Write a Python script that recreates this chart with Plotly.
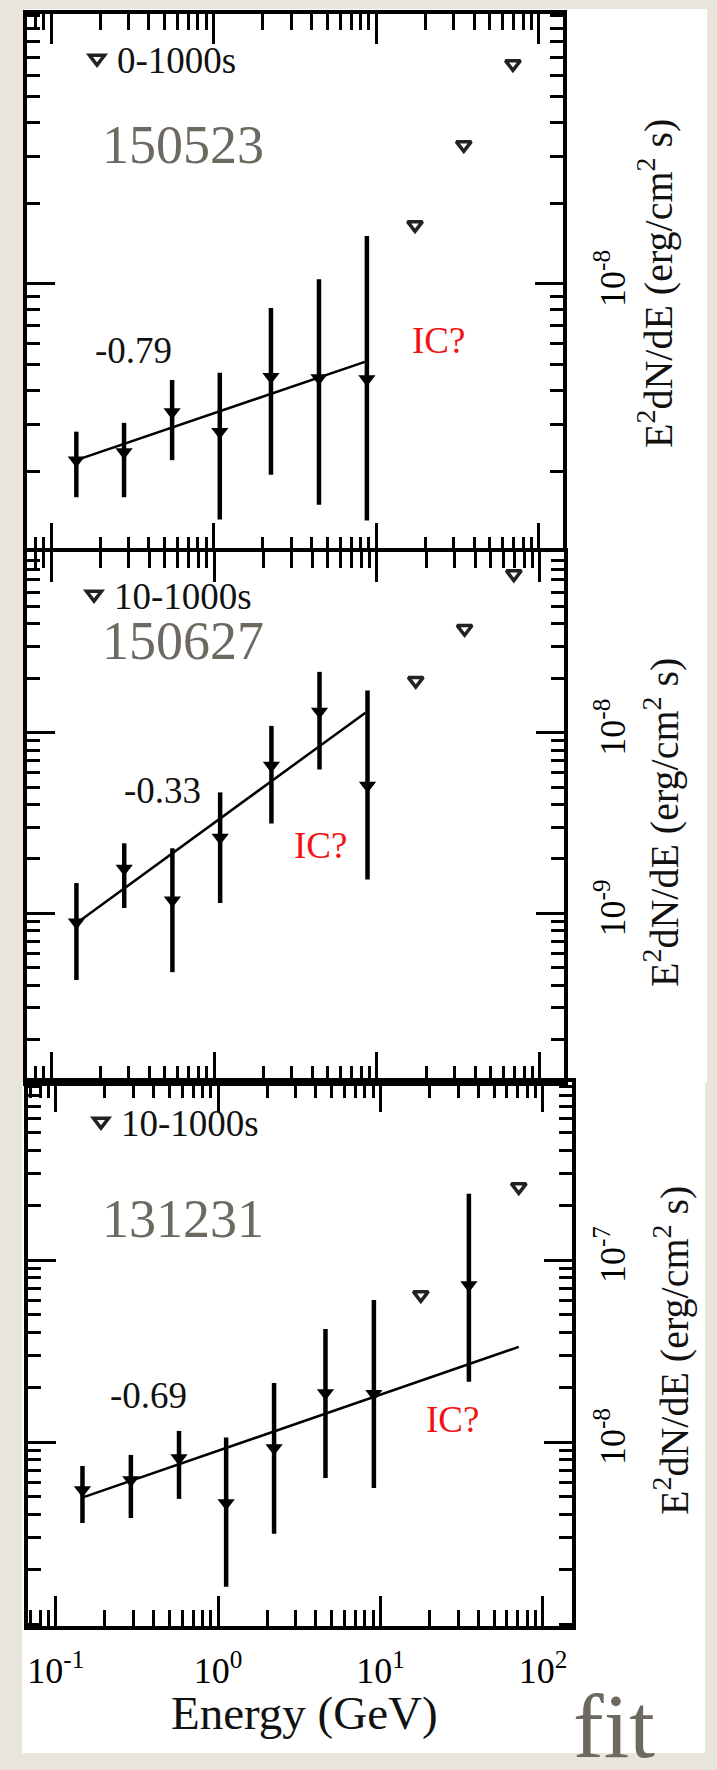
import plotly.graph_objects as go

W, H = 717, 1770
SERIF = "Liberation Serif, Times New Roman, Times, serif"

# ---------------- data ----------------
# Panel 1: 150523, 0-1000s
e1 = [0.143, 0.281, 0.555, 1.09, 2.25, 4.44, 8.75]
f1 = [2.20e-9, 2.36e-9, 3.33e-9, 2.81e-9, 4.50e-9, 4.46e-9, 4.42e-9]
f1_hi = [2.81e-9, 3.03e-9, 4.38e-9, 4.66e-9, 8.13e-9, 1.04e-8, 1.51e-8]
f1_lo = [1.60e-9, 1.60e-9, 2.20e-9, 1.32e-9, 1.94e-9, 1.50e-9, 1.31e-9]
ul1_e = [17.3, 34.5, 69.2]
ul1_f = [1.66e-8, 3.30e-8, 6.62e-8]
fit1_e = [0.143, 8.5]
fit1_f = [2.20e-9, 5.12e-9]

# Panel 2: 150627, 10-1000s
e2 = [0.143, 0.281, 0.555, 1.09, 2.25, 4.44, 8.75]
f2 = [8.91e-10, 1.77e-9, 1.18e-9, 2.63e-9, 6.58e-9, 1.31e-8, 5.09e-9]
f2_hi = [1.47e-9, 2.44e-9, 2.29e-9, 4.67e-9, 1.09e-8, 2.17e-8, 1.71e-8]
f2_lo = [4.27e-10, 1.07e-9, 4.72e-10, 1.14e-9, 3.14e-9, 6.25e-9, 1.54e-9]
ul2_e = [17.3, 34.5, 69.2]
ul2_f = [1.94e-8, 3.76e-8, 7.55e-8]
fit2_e = [0.143, 8.5]
fit2_f = [8.81e-10, 1.29e-8]

# Panel 3: 131231, 10-1000s
e3 = [0.146, 0.290, 0.574, 1.12, 2.21, 4.58, 9.1, 35.0]
f3 = [5.45e-9, 6.18e-9, 8.17e-9, 4.62e-9, 9.27e-9, 1.86e-8, 1.84e-8, 7.29e-8]
f3_hi = [7.38e-9, 8.49e-9, 1.15e-8, 1.06e-8, 2.11e-8, 4.18e-8, 6.03e-8, 2.31e-7]
f3_lo = [3.59e-9, 3.82e-9, 4.87e-9, 1.60e-9, 3.13e-9, 6.34e-9, 5.58e-9, 2.14e-8]
ul3_e = [17.7, 71.0]
ul3_f = [6.43e-8, 2.52e-7]
fit3_e = [0.150, 71.0]
fit3_f = [4.99e-9, 3.33e-8]

# tick labels
x_tickvals = [0.1, 1, 10, 100]
x_ticktext = ["10<sup>-1</sup>", "10<sup>0</sup>", "10<sup>1</sup>", "10<sup>2</sup>"]
y1_tickvals = [1e-8]
y1_ticktext = ["10<sup>-8</sup>"]
y2_tickvals = [1e-9, 1e-8]
y2_ticktext = ["10<sup>-9</sup>", "10<sup>-8</sup>"]
y3_tickvals = [1e-8, 1e-7]
y3_ticktext = ["10<sup>-8</sup>", "10<sup>-7</sup>"]

labels_time = ["0-1000s", "10-1000s", "10-1000s"]
labels_grb = ["150523", "150627", "131231"]
labels_index = ["-0.79", "-0.33", "-0.69"]

# ---------------- figure ----------------
def px(x):
    return x / W

def py(y):
    return 1 - y / H

fig = go.Figure()

panels = [
    (e1, f1, f1_hi, f1_lo, ul1_e, ul1_f, fit1_e, fit1_f),
    (e2, f2, f2_hi, f2_lo, ul2_e, ul2_f, fit2_e, fit2_f),
    (e3, f3, f3_hi, f3_lo, ul3_e, ul3_f, fit3_e, fit3_f),
]
legend_names = ["legend", "legend2", "legend3"]

for i, (e, f, hi, lo, ue, uf, fe, ff) in enumerate(panels):
    xa = "x" if i == 0 else f"x{i+1}"
    ya = "y" if i == 0 else f"y{i+1}"
    fig.add_trace(go.Scatter(
        x=fe, y=ff, mode="lines", line=dict(color="black", width=2.5),
        xaxis=xa, yaxis=ya, showlegend=False))
    fig.add_trace(go.Scatter(
        x=e, y=f, mode="markers",
        marker=dict(symbol="triangle-down", size=15, color="black"),
        error_y=dict(type="data", symmetric=False,
                     array=[h - v for h, v in zip(hi, f)],
                     arrayminus=[v - l for v, l in zip(f, lo)],
                     color="black", thickness=4.5, width=0),
        xaxis=xa, yaxis=ya, showlegend=False))
    fig.add_trace(go.Scatter(
        x=ue, y=uf, mode="markers", name=labels_time[i],
        marker=dict(symbol="triangle-down", size=13, color="white",
                    line=dict(color="#222", width=3.5)),
        xaxis=xa, yaxis=ya, showlegend=True, legend=legend_names[i]))

axis_common = dict(
    type="log", showline=True, linewidth=4, linecolor="black", mirror="ticks",
    ticks="inside", tickwidth=3, tickcolor="black", showgrid=False, zeroline=False,
    tickfont=dict(family=SERIF, size=36, color="black"),
)

def xaxis(dom, rng, anchor, labels):
    d = dict(axis_common)
    d.update(domain=[px(dom[0]), px(dom[1])], range=rng, anchor=anchor,
             ticklen=30, tickmode="array", tickvals=x_tickvals,
             ticktext=x_ticktext, showticklabels=labels, ticklabelstandoff=10,
             minor=dict(ticks="inside", dtick="D1", ticklen=16, tickwidth=3,
                        tickcolor="black", showgrid=False))
    return d

def yaxis(dom, rng, anchor, tv, tt, standoff):
    d = dict(axis_common)
    d.update(domain=[py(dom[1]), py(dom[0])], range=rng, anchor=anchor,
             side="right", ticklen=28, tickmode="array", tickvals=tv, ticktext=tt,
             tickangle=-90, ticklabelstandoff=standoff,
             minor=dict(ticks="inside", dtick="D1", ticklen=13, tickwidth=3,
                        tickcolor="black", showgrid=False))
    return d

fig.update_layout(
    xaxis=xaxis((27, 563), [-1.148, 2.148], "y", False),
    yaxis=yaxis((14, 553), [-9.004, -6.993], "x", y1_tickvals, y1_ticktext, 15),
    xaxis2=xaxis((27, 564), [-1.148, 2.148], "y2", False),
    yaxis2=yaxis((552, 1082), [-9.934, -7.0], "x2", y2_tickvals, y2_ticktext, 14),
    xaxis3=xaxis((28, 572), [-1.171, 2.179], "y3", True),
    yaxis3=yaxis((1082, 1626), [-9.011, -6.022], "x3", y3_tickvals, y3_ticktext, 6),
)

legend_pos = [(117, 59), (114, 595), (121, 1122)]
for name, (lx, ly) in zip(legend_names, legend_pos):
    fig.update_layout({name: dict(
        x=px(lx - 40), y=py(ly), xanchor="left", yanchor="middle",
        bgcolor="rgba(0,0,0,0)", borderwidth=0,
        font=dict(family=SERIF, size=37, color="#111"))})

shapes = [
    dict(type="rect", xref="paper", yref="paper", x0=px(25), x1=px(707),
         y0=py(1082), y1=py(9), fillcolor="white", line=dict(width=0), layer="below"),
    dict(type="rect", xref="paper", yref="paper", x0=px(22), x1=px(705),
         y0=py(1753), y1=py(1082), fillcolor="white", line=dict(width=0), layer="below"),
]

def ann(text, x, y, size, color="#111", angle=0, family=SERIF):
    return dict(text=text, x=px(x), y=py(y), xref="paper", yref="paper",
                showarrow=False, xanchor="center", yanchor="middle",
                textangle=angle, font=dict(family=family, size=size, color=color))

GRAY = "#6d6961"
RED = "#f21414"
ytitle = "E<sup>2</sup>dN/dE (erg/cm<sup>2</sup> s)"
annotations = [
    ann(labels_grb[0], 183, 145, 54, GRAY),
    ann(labels_index[0], 133, 350, 37),
    ann("IC?", 438, 340, 37, RED),
    ann(labels_grb[1], 183, 641, 54, GRAY),
    ann(labels_index[1], 162, 790, 37),
    ann("IC?", 320, 845, 37, RED),
    ann(labels_grb[2], 183, 1219, 54, GRAY),
    ann(labels_index[2], 148, 1395, 37),
    ann("IC?", 452, 1419, 37, RED),
    ann(ytitle, 655, 284, 40, angle=-90),
    ann(ytitle, 661, 823, 40, angle=-90),
    ann(ytitle, 671, 1351, 40, angle=-90),
    ann("Energy (GeV)", 304, 1713, 47),
    ann("fit", 614, 1726, 92, GRAY),
]

fig.update_layout(
    width=W, height=H, autosize=False,
    margin=dict(l=0, r=0, t=0, b=0, pad=0),
    paper_bgcolor="#e9e5dc", plot_bgcolor="white",
    shapes=shapes, annotations=annotations,
)

fig.write_html("out.html")
